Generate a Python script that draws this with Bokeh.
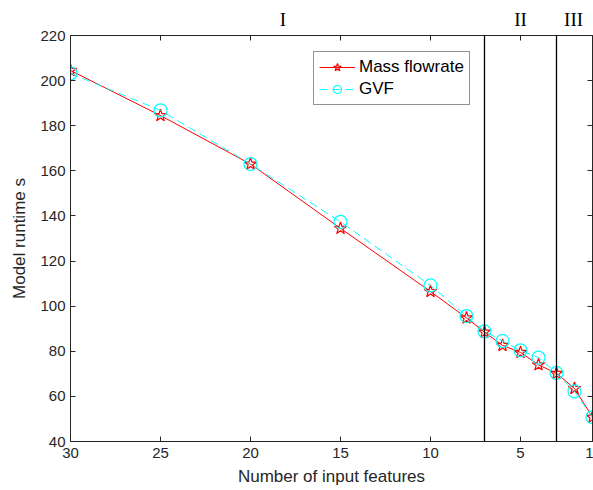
from bokeh.plotting import figure
from bokeh.models import (Range1d, LinearAxis, FixedTicker, Span, Legend, LegendItem)
from bokeh.embed import file_html
from bokeh.resources import INLINE

# ---- data ----
features = [30, 25, 20, 15, 10, 8, 7, 6, 5, 4, 3, 2, 1]
mass_flowrate = [204.5, 184.5, 163, 134.5, 106.5, 94.8, 88.5, 82.6, 79.5, 74.0, 70.2, 63.5, 50.8]
gvf = [203.2, 186.8, 163, 137.4, 109.2, 95.6, 88.8, 84.6, 80.4, 77.2, 70.4, 62.2, 50.8]
x_ticks = [30, 25, 20, 15, 10, 5, 1]
y_ticks = [40, 60, 80, 100, 120, 140, 160, 180, 200, 220]
boundaries = [7, 3]
region_labels = ["I", "II", "III"]
region_label_x = [18.2, 5.0, 2.05]

FONT = "Liberation Sans"
TXT = "#262626"

p = figure(width=593, height=490, output_backend="svg", toolbar_location=None,
           x_range=Range1d(30, 1), y_range=Range1d(40, 220),
           min_border_left=70, min_border_right=1, min_border_top=35, min_border_bottom=49,
           x_axis_location=None, y_axis_location=None)
p.grid.visible = False
p.outline_line_color = TXT
p.outline_line_width = 1
p.background_fill_color = "white"
p.border_fill_color = "white"

def style_axis(ax, labels=True):
    ax.major_tick_in = 5
    ax.major_tick_out = 0
    ax.minor_tick_line_color = None
    ax.axis_line_color = TXT
    ax.major_tick_line_color = TXT
    ax.major_label_text_font = FONT
    ax.major_label_text_font_size = "15px"
    ax.major_label_text_color = TXT
    ax.axis_label_text_font = FONT
    ax.axis_label_text_font_size = "17px"
    ax.axis_label_text_font_style = "normal"
    ax.axis_label_text_color = TXT
    if not labels:
        ax.major_label_overrides = {t: "" for t in ax.ticker.ticks}
        ax.major_label_standoff = 0

xb = LinearAxis(ticker=FixedTicker(ticks=x_ticks), axis_label="Number of input features")
style_axis(xb)
xb.major_label_standoff = 6
xb.axis_label_standoff = 6
p.add_layout(xb, "below")

yl = LinearAxis(ticker=FixedTicker(ticks=y_ticks), axis_label="Model runtime s")
style_axis(yl)
yl.major_label_standoff = 5
yl.axis_label_standoff = 8
p.add_layout(yl, "left")

xt = LinearAxis(ticker=FixedTicker(ticks=x_ticks))
style_axis(xt, labels=False)
p.add_layout(xt, "above")

# region names I / II / III shown as labels of a tick-less top axis
xr = LinearAxis(ticker=FixedTicker(ticks=region_label_x),
                major_label_overrides={xv: lab for xv, lab in zip(region_label_x, region_labels)})
xr.major_tick_line_color = None
xr.minor_tick_line_color = None
xr.axis_line_color = None
xr.major_tick_in = 0
xr.major_tick_out = 0
xr.major_label_standoff = 6
xr.major_label_text_font = "Liberation Serif"
xr.major_label_text_font_size = "19px"
xr.major_label_text_color = "black"
p.add_layout(xr, "above")

yr = LinearAxis(ticker=FixedTicker(ticks=y_ticks))
style_axis(yr, labels=False)
p.add_layout(yr, "right")

for b in boundaries:
    p.add_layout(Span(location=b, dimension="height", line_color="black", line_width=1.3))

r1 = p.line(features, mass_flowrate, line_color="red", line_width=1)
m1 = p.scatter(features, mass_flowrate, marker="star", size=13, line_color="red",
               fill_color=None, line_width=1.2)
r2 = p.line(features, gvf, line_color="cyan", line_width=1, line_dash="8 5")
m2 = p.scatter(features, gvf, marker="circle", size=13, line_color="cyan",
               fill_color=None, line_width=1.2)

legend = Legend(items=[LegendItem(label="Mass flowrate", renderers=[r1, m1]),
                       LegendItem(label="GVF", renderers=[r2, m2])],
                location=(243, 336))
legend.label_text_font = FONT
legend.label_text_font_size = "17px"
legend.label_text_color = "black"
legend.border_line_color = TXT
legend.border_line_width = 1
legend.glyph_width = 36
legend.spacing = 2
legend.padding = 5
legend.margin = 0
legend.label_standoff = 4
legend.background_fill_alpha = 1
p.add_layout(legend, "center")

open("out.html", "w").write(file_html(p, INLINE))
